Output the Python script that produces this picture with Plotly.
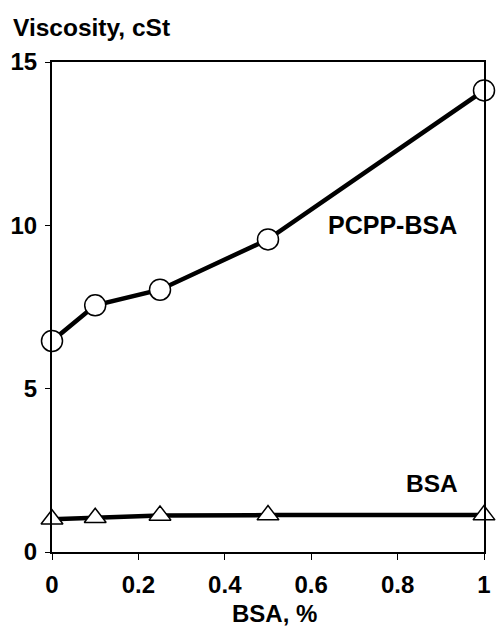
import plotly.graph_objects as go

bsa_pct = [0, 0.1, 0.25, 0.5, 1.0]
pcpp_bsa = [6.46, 7.55, 8.03, 9.57, 14.13]
bsa_only = [1.0, 1.05, 1.12, 1.13, 1.13]
x_ticks = [0, 0.2, 0.4, 0.6, 0.8, 1]
x_tick_text = ["0", "0.2", "0.4", "0.6", "0.8", "1"]
y_ticks = [0, 5, 10, 15]

FONT = "Liberation Sans, Arial, sans-serif"

fig = go.Figure()
fig.add_trace(go.Scatter(
    x=bsa_pct, y=pcpp_bsa, mode="lines+markers", cliponaxis=False,
    line=dict(color="black", width=4.5),
    marker=dict(symbol="circle", size=21, color="white", line=dict(color="black", width=1.5)),
    showlegend=False))
fig.add_trace(go.Scatter(
    x=bsa_pct, y=bsa_only, mode="lines+markers", cliponaxis=False,
    line=dict(color="black", width=4.5),
    marker=dict(symbol="triangle-up", size=19, color="white", line=dict(color="black", width=1.5)),
    showlegend=False))

fig.update_layout(
    width=501, height=629,
    margin=dict(l=51, r=10, t=62, b=77),
    paper_bgcolor="white", plot_bgcolor="white",
    font=dict(family=FONT, size=24, color="black"),
    xaxis=dict(range=[0, 1], tickvals=x_ticks, ticktext=x_tick_text,
               showgrid=False, zeroline=False, showline=True, linecolor="black",
               linewidth=2, mirror=True, ticks="outside", ticklen=6, tickwidth=1,
               ticklabelstandoff=4,
               tickcolor="black", tickfont=dict(family=FONT, size=24, color="black", weight="bold")),
    yaxis=dict(range=[0, 15], tickvals=y_ticks,
               showgrid=False, zeroline=False, showline=True, linecolor="black",
               linewidth=2, mirror=True, ticks="outside", ticklen=5, tickwidth=1,
               ticklabelstandoff=3,
               tickcolor="black", tickfont=dict(family=FONT, size=24, color="black", weight="bold")),
    annotations=[
        dict(text="<b>Viscosity, cSt</b>", xref="paper", yref="paper", x=-0.095, y=1.071,
             xanchor="left", yanchor="middle", showarrow=False, font=dict(size=24.5)),
        dict(text="<b>BSA, %</b>", xref="paper", yref="paper", x=0.515, y=-0.125,
             xanchor="center", yanchor="middle", showarrow=False, font=dict(size=24)),
        dict(text="<b>PCPP-BSA</b>", xref="x", yref="y", x=0.788, y=10.0,
             xanchor="center", yanchor="middle", showarrow=False, font=dict(size=25)),
        dict(text="<b>BSA</b>", xref="x", yref="y", x=0.879, y=2.1,
             xanchor="center", yanchor="middle", showarrow=False, font=dict(size=24.5)),
    ],
)

fig.write_html("out.html", config={"displayModeBar": False},
               post_script="document.body.style.margin='0';document.body.style.overflow='hidden';")
